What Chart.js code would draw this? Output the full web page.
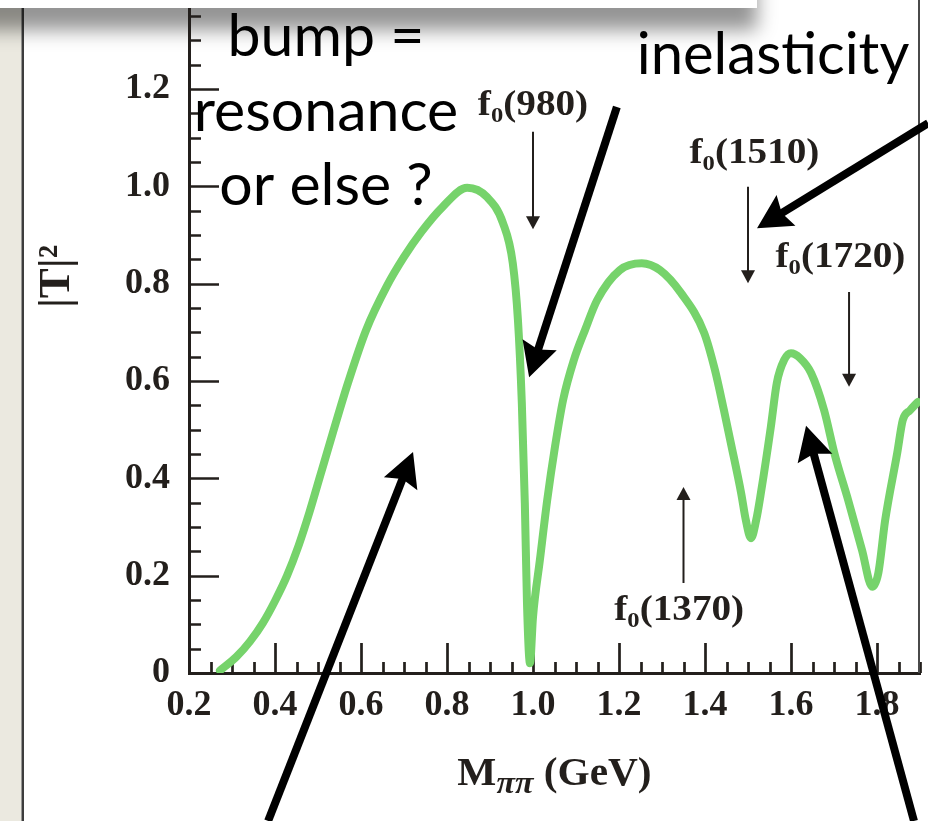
<!DOCTYPE html>
<html>
<head>
<meta charset="utf-8">
<script src="https://cdn.jsdelivr.net/npm/chart.js@4.4.1/dist/chart.umd.min.js"></script>
<style>
  html, body { margin: 0; padding: 0; background: #fff; }
  #wrap { width: 928px; height: 821px; position: relative; }
</style>
</head>
<body>
<div id="wrap"><canvas id="chart"></canvas></div>
<script>
// |T|^2 against M_pipi
const massGeV = [0.272, 0.310, 0.342, 0.372, 0.400, 0.428, 0.455, 0.480, 0.505, 0.535,
  0.570, 0.612, 0.660, 0.700, 0.740, 0.790, 0.847, 0.893, 0.930, 0.953, 0.965, 0.974,
  0.981, 0.986, 0.993,
  1.000, 1.016, 1.033, 1.051, 1.070, 1.095, 1.121, 1.149, 1.202, 1.253, 1.295, 1.344,
  1.398, 1.423, 1.444, 1.460, 1.484, 1.495, 1.507, 1.519, 1.530, 1.553, 1.567, 1.584,
  1.600, 1.621, 1.647, 1.677, 1.702, 1.733, 1.765, 1.789, 1.803, 1.819, 1.847, 1.860,
  1.877, 1.895];
const tSquared = [0.005, 0.033, 0.065, 0.103, 0.148, 0.200, 0.262, 0.330, 0.405, 0.495,
  0.597, 0.705, 0.795, 0.855, 0.906, 0.958, 0.997, 0.978, 0.925, 0.842, 0.725, 0.555,
  0.349, 0.144, 0.020,
  0.115, 0.232, 0.355, 0.464, 0.561, 0.643, 0.705, 0.766, 0.828, 0.842, 0.828, 0.781,
  0.699, 0.623, 0.540, 0.473, 0.370, 0.314, 0.277, 0.314, 0.370, 0.505, 0.596, 0.643,
  0.657, 0.647, 0.616, 0.540, 0.448, 0.355, 0.253, 0.177, 0.205, 0.314, 0.452, 0.520,
  0.540, 0.557];

const xTicks = [0.2, 0.4, 0.6, 0.8, 1.0, 1.2, 1.4, 1.6, 1.8];
const yTicks = [0, 0.2, 0.4, 0.6, 0.8, 1.0, 1.2];

// resonance markers (thin arrows), in data units
const resMass = ["980", "1370", "1510", "1720"];
const resArrowX = [1.0, 1.35, 1.5, 1.735];
const resArrowFrom = [1.112, 0.185, 0.999, 0.783];
const resArrowTo = [0.912, 0.382, 0.801, 0.588];
const resLabelX = [1.0, 1.34, 1.515, 1.715];
const resLabelY = [1.146, 0.109, 1.048, 0.834];

// slide call-out arrows (tail -> tip), in data units
const calloutFromX = [1.195, 1.919, 0.384, 1.886];
const calloutFromY = [1.163, 1.130, -0.304, -0.304];
const calloutToX = [0.991, 1.521, 0.721, 1.635];
const calloutToY = [0.608, 0.914, 0.454, 0.508];

const INK = "#231f1c";
const GREEN = "#76d36b";
const SERIF = "'Liberation Serif', 'Times New Roman', serif";
const SANS = "Lato, 'Open Sans', sans-serif";

function drawArrow(ctx, x1, y1, x2, y2, lw, headLen, headHalf, notch, color) {
  const a = Math.atan2(y2 - y1, x2 - x1);
  const c = Math.cos(a), s = Math.sin(a);
  const bx = x2 - headLen * c, by = y2 - headLen * s;
  ctx.strokeStyle = color;
  ctx.fillStyle = color;
  ctx.lineWidth = lw;
  ctx.beginPath();
  ctx.moveTo(x1, y1);
  ctx.lineTo(bx + (notch + 2) * c, by + (notch + 2) * s);
  ctx.stroke();
  ctx.beginPath();
  ctx.moveTo(x2, y2);
  ctx.lineTo(bx - headHalf * s, by + headHalf * c);
  ctx.lineTo(bx + notch * c, by + notch * s);
  ctx.lineTo(bx + headHalf * s, by - headHalf * c);
  ctx.closePath();
  ctx.fill();
}

// draw text stretched a little wider, like the serif in the figure
function wideText(ctx, txt, x, y, k) {
  ctx.save();
  ctx.translate(x, y);
  ctx.scale(k, 1);
  ctx.fillText(txt, 0, 0);
  ctx.restore();
  return ctx.measureText(txt).width * k;
}

// f_0(xxx) with a lowered subscript
function drawResLabel(ctx, cx, baseline, mass) {
  const k = 1.12;
  const main = "bold 35px " + SERIF, sub = "bold 22px " + SERIF;
  const tail = "(" + mass + ")";
  ctx.font = main; const wf = ctx.measureText("f").width * k; const wt = ctx.measureText(tail).width * k;
  ctx.font = sub; const ws = ctx.measureText("0").width * k;
  let x = cx - (wf + ws + wt) / 2;
  ctx.fillStyle = INK;
  ctx.textAlign = "left";
  ctx.textBaseline = "alphabetic";
  ctx.font = main; x += wideText(ctx, "f", x, baseline, k);
  ctx.font = sub; x += wideText(ctx, "0", x, baseline + 7, k);
  ctx.font = main; wideText(ctx, tail, x, baseline, k);
}

const slideBackground = {
  id: "slideBackground",
  beforeDraw(chart) {
    const { ctx, width, height } = chart;
    ctx.save();
    ctx.fillStyle = "#fff";
    ctx.fillRect(0, 0, width, height);
    ctx.fillStyle = "#ebe9e0";
    ctx.fillRect(0, 0, 21.5, height);
    ctx.fillStyle = "#3d3d3d";
    ctx.fillRect(21.5, 0, 2.5, height);
    // shadow under the box at the top of the slide
    ctx.shadowColor = "rgba(0,0,0,0.42)";
    ctx.shadowBlur = 18;
    ctx.shadowOffsetY = 22;
    ctx.fillStyle = "#fff";
    ctx.fillRect(-100, -200, 857, 208);
    ctx.restore();
  }
};

const innerTicks = {
  id: "innerTicks",
  beforeDatasetsDraw(chart) {
    const { ctx, chartArea: area, scales: { x, y } } = chart;
    ctx.save();
    ctx.strokeStyle = INK;
    ctx.lineWidth = 2.7;
    ctx.beginPath();
    for (let i = 1; ; i++) {
      const v = 0.2 + i * 0.05;
      if (v > x.max + 1e-9) break;
      const px = Math.round(x.getPixelForValue(v)) + 0.5;
      const len = i % 4 === 0 ? 30 : 11;
      ctx.moveTo(px, area.bottom);
      ctx.lineTo(px, area.bottom - len);
    }
    for (let i = 1; ; i++) {
      const v = i * 0.05;
      if (v > y.max + 1e-9) break;
      const py = Math.round(y.getPixelForValue(v)) + 0.5;
      const len = i % 4 === 0 ? 30 : 12;
      ctx.moveTo(area.left, py);
      ctx.lineTo(area.left + len, py);
    }
    ctx.stroke();
    // right frame line
    ctx.strokeStyle = "#4a4a4a";
    ctx.lineWidth = 2;
    ctx.beginPath();
    ctx.moveTo(area.right - 1, area.top);
    ctx.lineTo(area.right - 1, area.bottom);
    ctx.stroke();
    ctx.restore();
  }
};

const overlay = {
  id: "overlay",
  afterDraw(chart) {
    const { ctx, chartArea: area, scales: { x, y } } = chart;
    ctx.save();

    // resonance markers
    for (let i = 0; i < resMass.length; i++) {
      const px = x.getPixelForValue(resArrowX[i]);
      drawArrow(ctx, px, y.getPixelForValue(resArrowFrom[i]), px, y.getPixelForValue(resArrowTo[i]),
        2, 13, 7, 0, INK);
      drawResLabel(ctx, x.getPixelForValue(resLabelX[i]), y.getPixelForValue(resLabelY[i]), resMass[i]);
    }

    // x axis title: M_pipi (GeV)
    const k = 1.06;
    const mainF = "bold 39px " + SERIF, subF = "italic bold 32px " + SERIF;
    ctx.font = mainF; const wM = ctx.measureText("M").width * k; const wG = ctx.measureText(" (GeV)").width * k;
    ctx.font = subF; const wP = ctx.measureText("ππ").width * k;
    let tx = (area.left + area.right) / 2 - (wM + wP + wG) / 2;
    const tb = 785;
    ctx.fillStyle = INK;
    ctx.textAlign = "left";
    ctx.textBaseline = "alphabetic";
    ctx.font = mainF; tx += wideText(ctx, "M", tx, tb, k);
    ctx.font = subF; tx += wideText(ctx, "ππ", tx, tb + 8, k);
    ctx.font = mainF; wideText(ctx, " (GeV)", tx, tb, k);

    // y axis title: |T|^2
    ctx.save();
    ctx.font = "bold 45px " + SERIF;
    const yt = "|T|²";
    const wy = ctx.measureText(yt).width;
    ctx.translate(69, y.getPixelForValue(0.815));
    ctx.rotate(-Math.PI / 2);
    ctx.fillText(yt, -wy / 2, 0);
    ctx.restore();

    // slide text
    ctx.fillStyle = "#000";
    ctx.textAlign = "center";
    ctx.font = "59px " + SANS;
    ctx.fillText("bump =", 326, 56);
    ctx.fillText("resonance", 326, 131);
    ctx.fillText("or else ?", 326, 205);
    ctx.font = "58px " + SANS;
    ctx.fillText("inelasticity", 773, 74);

    // call-out arrows
    for (let i = 0; i < calloutFromX.length; i++) {
      drawArrow(ctx, x.getPixelForValue(calloutFromX[i]), y.getPixelForValue(calloutFromY[i]),
        x.getPixelForValue(calloutToX[i]), y.getPixelForValue(calloutToY[i]), 8, 34, 18, 5, "#000");
    }

    // white box at the top of the slide
    ctx.fillStyle = "#fff";
    ctx.fillRect(0, 0, 757, 8);
    ctx.restore();
  }
};

const ctx = document.getElementById("chart").getContext("2d");
new Chart(ctx, {
  type: "line",
  data: {
    datasets: [{
      data: massGeV.map((m, i) => ({ x: m, y: tSquared[i] })),
      borderColor: GREEN,
      borderWidth: 8,
      pointRadius: 0,
      fill: false,
      cubicInterpolationMode: "monotone",
      borderCapStyle: "round",
      borderJoinStyle: "round"
    }]
  },
  options: {
    responsive: true,
    maintainAspectRatio: false,
    animation: false,
    layout: { padding: { left: 0, top: 0, right: 8, bottom: 0 } },
    plugins: { legend: { display: false }, tooltip: { enabled: false } },
    scales: {
      x: {
        type: "linear",
        min: 0.2,
        max: 1.9,
        grid: { display: false },
        border: { display: true, color: INK, width: 3 },
        afterBuildTicks: s => { s.ticks = xTicks.map(v => ({ value: v })); },
        afterFit: s => { s.height = 148; s.paddingLeft = 0; s.paddingRight = 0; },
        ticks: {
          color: INK,
          padding: 3,
          maxRotation: 0,
          autoSkip: false,
          font: { family: SERIF, weight: "bold", size: 36 },
          callback: v => v.toFixed(1)
        }
      },
      y: {
        type: "linear",
        min: 0,
        max: 1.383,
        grid: { display: false },
        border: { display: true, color: INK, width: 3 },
        afterBuildTicks: s => { s.ticks = yTicks.map(v => ({ value: v })); },
        afterFit: s => { s.width = 189; s.paddingTop = 0; s.paddingBottom = 0; },
        ticks: {
          color: INK,
          padding: 11,
          autoSkip: false,
          font: { family: SERIF, weight: "bold", size: 36 },
          callback: v => (v === 0 ? "0" : v.toFixed(1))
        }
      }
    }
  },
  plugins: [slideBackground, innerTicks, overlay]
});
</script>
</body>
</html>
